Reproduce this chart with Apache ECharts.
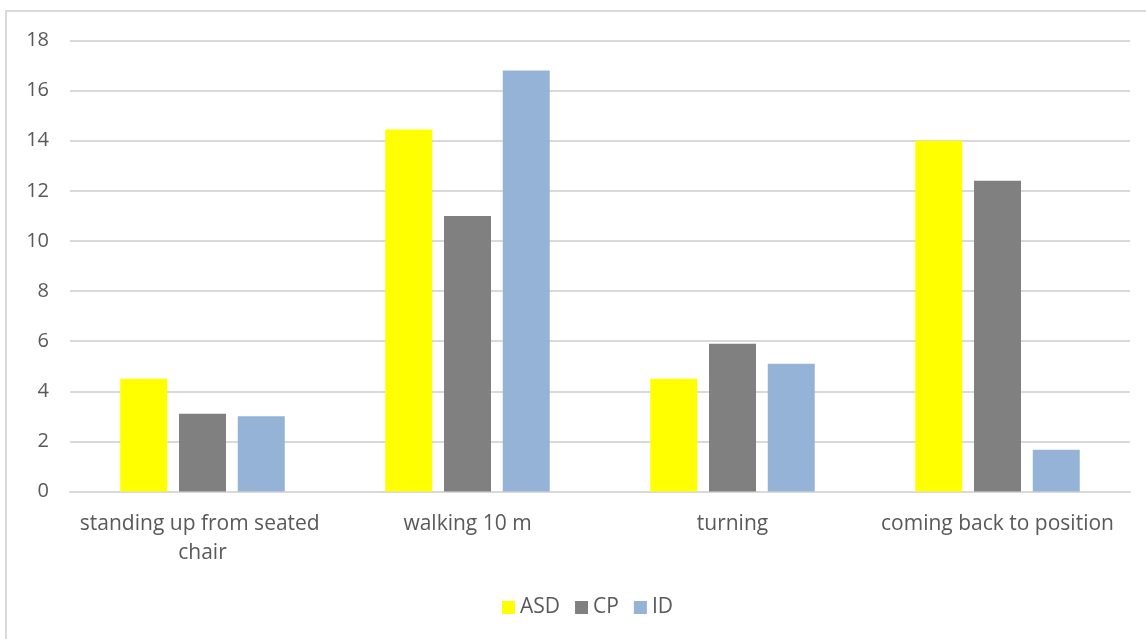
<!DOCTYPE html>
<html>
<head>
<meta charset="utf-8">
<script src="https://cdn.jsdelivr.net/npm/echarts@6/dist/echarts.min.js"></script>
<style>
  html, body { margin: 0; padding: 0; background: #ffffff; }
  #chart { width: 1146px; height: 639px; }
</style>
</head>
<body>
<div id="chart"></div>
<script>
// Timed Up and Go phases, mean seconds per group
const categories = ['standing up from seated chair', 'walking 10 m', 'turning', 'coming back to position'];
const asd = [4.5, 14.45, 4.5, 14.0];
const cp = [3.1, 11.0, 5.9, 12.4];
const id = [3.0, 16.8, 5.1, 1.67];
const yTicks = { min: 0, max: 18, interval: 2 };

const textColor = '#595959';
const font = '"Open Sans", "Liberation Sans", sans-serif';

const chart = echarts.init(document.getElementById('chart'), null, { renderer: 'canvas' });

function bar(name, values, color) {
  return {
    name: name,
    type: 'bar',
    data: values,
    barWidth: 47,
    barGap: '25%',
    itemStyle: { color: color },
    emphasis: { disabled: true }
  };
}

chart.setOption({
  animation: false,
  backgroundColor: '#ffffff',
  graphic: [{
    type: 'rect',
    shape: { x: 6, y: 11, width: 1160, height: 660 },
    style: { fill: 'none', stroke: '#d9d9d9', lineWidth: 2 },
    silent: true
  }],
  grid: { left: 70, right: 16, top: 40.5, bottom: 147.5, containLabel: false },
  legend: {
    top: 592,
    left: 497,
    padding: 5,
    itemWidth: 13,
    itemHeight: 13,
    itemGap: 15,
    icon: 'rect',
    textStyle: { color: textColor, fontSize: 21, fontFamily: font },
    data: ['ASD', 'CP', 'ID']
  },
  xAxis: {
    type: 'category',
    data: categories,
    axisLine: { show: true, lineStyle: { color: '#d9d9d9', width: 2 } },
    axisTick: { show: false },
    axisLabel: {
      interval: 0,
      color: textColor,
      fontSize: 21,
      fontFamily: font,
      lineHeight: 29,
      margin: 18,
      width: 262,
      overflow: 'break'
    }
  },
  yAxis: {
    type: 'value',
    min: yTicks.min,
    max: yTicks.max,
    interval: yTicks.interval,
    axisLine: { show: false },
    axisTick: { show: false },
    splitLine: { lineStyle: { color: '#d9d9d9', width: 2 } },
    axisLabel: { color: textColor, fontSize: 20, fontFamily: font, margin: 21 }
  },
  series: [
    bar('ASD', asd, '#ffff00'),
    bar('CP', cp, '#808080'),
    bar('ID', id, '#95b3d7')
  ]
});
</script>
</body>
</html>
